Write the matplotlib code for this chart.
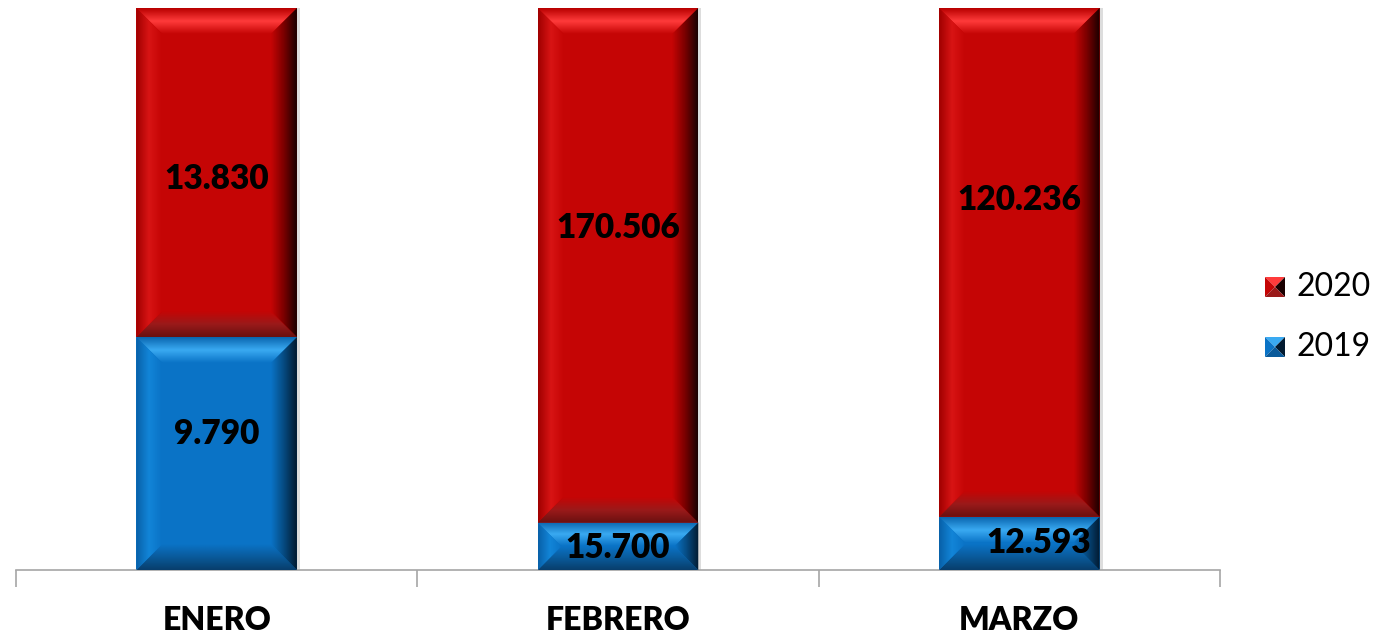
import numpy as np
import matplotlib
matplotlib.use('Agg')
import matplotlib.pyplot as plt
from matplotlib.patches import Polygon
from matplotlib.colors import LinearSegmentedColormap

plt.rcParams.update({
    'font.family': ['Lato', 'DejaVu Sans'],
})

# ===================== DATA =====================
months = ['ENERO', 'FEBRERO', 'MARZO']
v2019 = [9790, 15700, 12593]
v2020 = [13830, 170506, 120236]
lab2019 = ['9.790', '15.700', '12.593']
lab2020 = ['13.830', '170.506', '120.236']

tot = np.array(v2019, float) + np.array(v2020, float)
f2019 = np.array(v2019) / tot
f2020 = np.array(v2020) / tot

# label tweaks (pixel offsets from segment centre), as in the source image
off2019 = [(0, 20), (0, -2), (19, 0)]
off2020 = [(0, -6), (0, 37), (0, 62)]

# ===================== FIGURE =====================
W, H = 1376, 634
fig = plt.figure(figsize=(W / 100, H / 100), dpi=100)
ax_l, ax_r, ax_t, ax_b = 16, 1220, 8, 570
ax = fig.add_axes([ax_l / W, 1 - ax_b / H, (ax_r - ax_l) / W, (ax_b - ax_t) / H])
ax.set_xlim(-0.5, 2.5)
ax.set_ylim(0, 1)
px_x = 3.0 / (ax_r - ax_l)   # data units per pixel
px_y = 1.0 / (ax_b - ax_t)

red = dict(main='#C50505', top=['#B80000', '#FF3B3B', '#C50505'],
           left=['#A00000', '#D81414', '#C50505'],
           right=['#C50505', '#7A0000', '#1A0000'],
           bot=['#C50505', '#9A1A1A', '#6A1010'])
blue = dict(main='#0A73C6', top=['#0A66B0', '#3AAAF2', '#0A73C6'],
            left=['#0860A8', '#1285D8', '#0A73C6'],
            right=['#0A73C6', '#064A80', '#021A30'],
            bot=['#0A73C6', '#0A5A9A', '#083E6C'])


def grad_side(x0, x1, y0, y1, poly, colors, horizontal, flip=False):
    cmap = LinearSegmentedColormap.from_list('g', colors)
    g = np.linspace(0, 1, 64)
    if flip:
        g = g[::-1]
    img = g[None, :] if horizontal else g[:, None]
    im = ax.imshow(img, extent=[x0, x1, y0, y1], origin='lower', aspect='auto',
                   cmap=cmap, vmin=0, vmax=1, zorder=3, interpolation='bilinear')
    p = Polygon(poly, closed=True, transform=ax.transData, facecolor='none', edgecolor='none')
    ax.add_patch(p)
    im.set_clip_path(p)


def bevel_bar(xc, y0, h, width, st):
    x0, x1 = xc - width / 2, xc + width / 2
    y1 = y0 + h
    # shadow
    ax.add_patch(plt.Rectangle((x0 + 3 * px_x, y0), width, h, facecolor='#00000022',
                               edgecolor='none', zorder=2))
    ax.bar(xc, h, width, bottom=y0, color=st['main'], zorder=2.5)
    hpx = h / px_y
    b = min(26, hpx / 2)
    bx, by = b * px_x, b * px_y
    # top
    grad_side(x0, x1, y1 - by, y1, [(x0, y1), (x1, y1), (x1 - bx, y1 - by), (x0 + bx, y1 - by)],
              st['top'], horizontal=False, flip=True)
    # bottom
    grad_side(x0, x1, y0, y0 + by, [(x0, y0), (x1, y0), (x1 - bx, y0 + by), (x0 + bx, y0 + by)],
              st['bot'], horizontal=False, flip=True)
    # left
    grad_side(x0, x0 + bx, y0, y1, [(x0, y0), (x0 + bx, y0 + by), (x0 + bx, y1 - by), (x0, y1)],
              st['left'], horizontal=True)
    # right
    grad_side(x1 - bx, x1, y0, y1, [(x1, y0), (x1 - bx, y0 + by), (x1 - bx, y1 - by), (x1, y1)],
              st['right'], horizontal=True)


x = np.arange(len(months))
bw = 0.4
for i in range(len(months)):
    bevel_bar(x[i], 0, f2019[i], bw, blue)
    bevel_bar(x[i], f2019[i], f2020[i], bw, red)
    cy = f2019[i] / 2
    ax.text(x[i] + off2019[i][0] * px_x, cy + off2019[i][1] * px_y, lab2019[i],
            ha='center', va='center', fontsize=24, fontweight='heavy', zorder=5)
    cy = f2019[i] + f2020[i] / 2
    ax.text(x[i] + off2020[i][0] * px_x, cy + off2020[i][1] * px_y, lab2020[i],
            ha='center', va='center', fontsize=24, fontweight='heavy', zorder=5)

# axes styling
for s in ['top', 'left', 'right']:
    ax.spines[s].set_visible(False)
ax.spines['bottom'].set_color('#A6A6A6')
ax.spines['bottom'].set_linewidth(1.2)
ax.set_yticks([])
ax.set_xticks(x)
ax.set_xticklabels(months, fontsize=23, fontweight='heavy')
ax.tick_params(axis='x', which='major', length=0, pad=26)
ax.set_xticks([-0.5, 0.5, 1.5, 2.5], minor=True)
ax.tick_params(axis='x', which='minor', length=12, color='#A6A6A6', width=1.2)

# legend
def legend_entry(yc, st, text):
    s = 20
    lx = 1265
    axl = fig.add_axes([lx / W, 1 - (yc + s / 2) / H, s / W, s / H])
    axl.set_xlim(0, 1)
    axl.set_ylim(0, 1)
    axl.axis('off')
    axl.add_patch(Polygon([(0, 1), (1, 1), (0.5, 0.5)], facecolor=st['top'][1], edgecolor='none'))
    axl.add_patch(Polygon([(0, 0), (0, 1), (0.5, 0.5)], facecolor=st['main'], edgecolor='none'))
    axl.add_patch(Polygon([(1, 0), (1, 1), (0.5, 0.5)], facecolor=st['right'][2], edgecolor='none'))
    axl.add_patch(Polygon([(0, 0), (1, 0), (0.5, 0.5)], facecolor=st['bot'][1], edgecolor='none'))
    fig.text((lx + s + 11) / W, 1 - yc / H, text, fontsize=23, va='center', ha='left')

legend_entry(287, red, '2020')
legend_entry(347, blue, '2019')

fig.savefig('out.png', dpi=100)
